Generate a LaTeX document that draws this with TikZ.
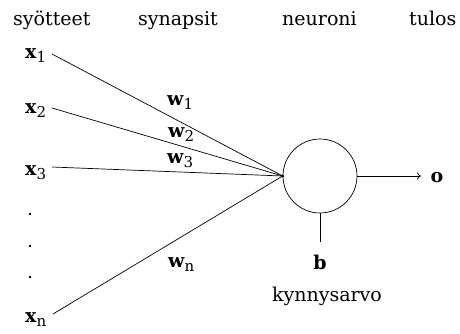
\documentclass[tikz,border=0pt]{standalone}
\usepackage{fontspec}
\setmainfont{DejaVu Serif}
\usetikzlibrary{arrows.meta}
\newcommand\biglbl[2]{{\fontsize{19}{22}\selectfont\bfseries #1}\raisebox{-4.5pt}{\fontsize{15}{17}\selectfont #2}}
\tikzset{
  ttl/.style={anchor=base west, inner sep=0pt, font=\fontsize{19}{22}\selectfont},
  inlbl/.style={anchor=base west, inner sep=0pt},
  wlbl/.style={anchor=base west, inner sep=0pt},
  syn/.style={line width=0.7pt},
  neur/.style={circle, draw, line width=0.7pt, minimum size=74pt, inner sep=0pt},
  bold/.style={inner sep=0pt, font=\fontsize{19}{22}\selectfont\bfseries},
}
\begin{document}
\begin{tikzpicture}[x=1pt,y=-1pt]
\useasboundingbox (0,0) rectangle (460,333);
% titles
\node[ttl] (t1) at (13,25) {syötteet};
\node[ttl] (t2) at (138,25) {synapsit};
\node[ttl] (t3) at (282,25) {neuroni};
\node[ttl] (t4) at (409,25) {tulos};
% inputs
\node[inlbl] (x1) at (25,58) {\biglbl{x}{1}};
\node[inlbl] (x2) at (25,113) {\biglbl{x}{2}};
\node[inlbl] (x3) at (25,175) {\biglbl{x}{3}};
\node[inlbl] (xn) at (25,322) {\biglbl{x}{n}};
\coordinate (s1) at (52,54);
\coordinate (s2) at (52,108);
\coordinate (s3) at (52,167);
\coordinate (sn) at (53,314);
% dots
\fill (30,214) circle (1.3);
\fill (30,246) circle (1.3);
\fill (30,277) circle (1.3);
% neuron
\node[neur] (neuron) at (320,176) {};
\draw[syn] (s1) -- (neuron.west);
\draw[syn] (s2) -- (neuron.west);
\draw[syn] (s3) -- (neuron.west);
\draw[syn] (sn) -- (neuron.west);
\fill (neuron.west) circle (1.6);
% weights
\node[wlbl] (w1) at (167,105) {\biglbl{w}{1}};
\node[wlbl] (w2) at (168,137) {\biglbl{w}{2}};
\node[wlbl] (w3) at (167,163) {\biglbl{w}{3}};
\node[wlbl] (wn) at (168,267) {\biglbl{w}{n}};
% output
\node[bold] (o) at (437,178) {o};
\coordinate (oend) at (421,176);
\draw[syn,-{To[length=4pt,width=7pt]}] (neuron.east) -- (oend);
% bias
\coordinate (bend) at (320,242);
\draw[syn] (neuron.south) -- (bend);
\node[bold] (b) at (320,262) {b};
\node[inner sep=0pt, font=\fontsize{19}{22}\selectfont] (k) at (327,296) {kynnysarvo};
\end{tikzpicture}
\end{document}
